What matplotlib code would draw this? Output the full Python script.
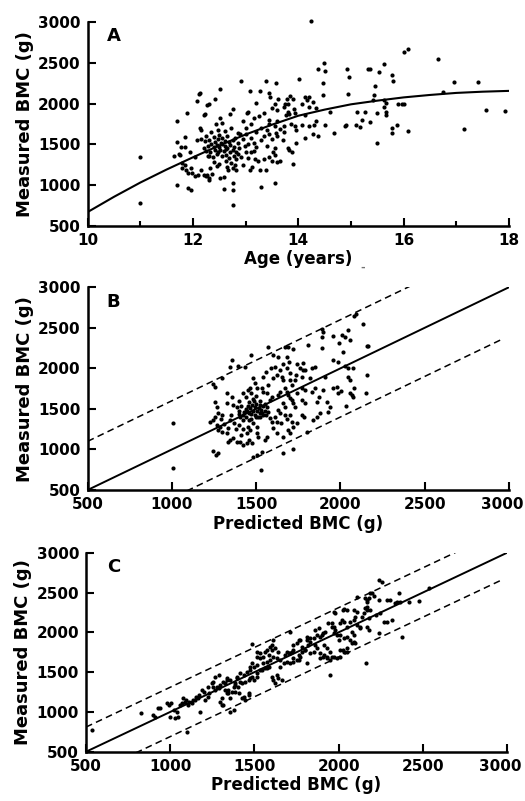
import numpy as np
import matplotlib
matplotlib.use("Agg")
import matplotlib.pyplot as plt
from matplotlib.ticker import MultipleLocator

# ---- panel A: measured BMC against age, with the fitted curve ----
age_a = [11.0, 11.0,
         11.69, 11.70, 11.64, 11.74, 11.77, 11.79, 11.79, 11.70, 11.89, 11.91, 11.97, 11.91, 11.97, 11.84, 11.84, 11.94,
         11.84, 11.87, 11.98, 11.75,
         12.03, 12.07, 12.11, 12.13, 12.16, 12.07, 12.16, 12.2, 12.2, 12.1, 12.04, 12.26, 12.2, 12.29, 12.32, 12.31, 12.26,
         12.13, 12.31, 12.42, 12.16, 12.25, 12.3, 12.36, 12.22,
         12.51, 12.52, 12.56, 12.44, 12.51, 12.58, 12.67, 12.76, 12.82, 12.76, 12.59, 12.75, 12.75, 12.92, 12.76, 12.70,
         12.92, 12.82,
         12.35, 12.48, 12.6, 12.72, 12.85,
         12.25, 12.4, 12.5, 12.55, 12.65, 12.8, 12.9,
         12.22, 12.3, 12.42, 12.47, 12.53, 12.6, 12.68, 12.75, 12.85,
         12.28, 12.35, 12.4, 12.45, 12.5, 12.55, 12.6, 12.65, 12.7, 12.78, 12.88,
         12.25, 12.33, 12.42, 12.48, 12.52, 12.58, 12.63, 12.7, 12.75, 12.82,
         12.3, 12.38, 12.45, 12.55, 12.62, 12.68, 12.78, 12.86,
         12.4, 12.5, 12.62, 12.72, 12.8, 12.45, 12.65,
         13.08, 13.27, 13.38, 13.57, 13.44, 13.46, 13.19, 13.03, 13.30, 13.56, 13.08, 13.12, 13.27, 13.38, 13.18, 13.24,
         13.34, 13.44, 13.5, 13.6, 13.66, 13.82, 13.15, 13.1, 12.99, 13.2, 13.3, 13.4, 13.45, 13.55, 13.6, 13.65, 13.15,
         13.25, 13.35, 13.45, 13.74, 13.8, 13.5, 13.55, 13.6, 13.62, 13.78,
         12.95, 13.0, 13.05, 13.1, 13.15, 13.2, 13.3, 13.35, 13.4, 13.45, 13.5, 13.55, 13.6, 13.7, 13.0, 13.05, 12.95,
         13.0, 12.95, 13.1, 13.05, 13.52, 13.55, 13.57,
         14.24, 14.38, 14.49, 14.51, 14.92, 14.97, 15.32, 15.36, 15.53, 15.63, 15.77, 15.8, 15.46, 16.01, 14.02, 14.46,
         14.47, 14.94, 15.44, 15.42, 15.62, 15.67, 15.9, 15.97, 13.84, 13.9, 14.12, 14.2, 14.16, 14.07, 14.27, 14.2,
         14.33, 13.8, 13.73, 13.92, 13.93, 13.76, 13.83, 14.12, 14.6, 14.33, 14.3, 14.07, 14.2, 13.86, 13.93, 13.73,
         13.96, 13.73, 14.5, 14.67, 14.88, 14.91, 15.12, 15.26, 15.1, 15.17, 15.2, 15.36, 15.5, 15.63, 15.67, 15.67,
         15.5, 15.77, 15.77, 15.88, 14.27, 14.37, 14.13, 13.96, 13.8, 13.88, 13.9,
         16.09, 16.65, 16.96, 17.41, 16.74, 16.0, 17.56, 17.92, 16.08, 17.15]
bmc_a = [1340, 780,
         1789, 1531, 1355, 1380, 1470, 1265, 1204, 1000, 1879, 960, 937, 1142, 1204, 1585, 1462, 1409,
         1245, 1184, 1148, 1368,
         1347, 2034, 2116, 1695, 1674, 1551, 1560, 1449, 1122, 1122, 1110, 1981, 1858, 1355, 1204, 1060, 1122,
         2125, 1994, 2051, 1184, 1110, 1090, 1135, 1871,
         2182, 1818, 1757, 1748, 1082, 1102, 1184, 1205, 1184, 1021, 947, 940, 751, 2276, 1929, 1871,
         1345, 1325,
         1650, 1680, 1660, 1700, 1640,
         1600, 1590, 1610, 1575, 1600, 1580, 1620,
         1540, 1555, 1530, 1560, 1520, 1545, 1530, 1555, 1510,
         1480, 1500, 1465, 1490, 1470, 1500, 1480, 1460, 1495, 1470, 1450,
         1420, 1410, 1430, 1405, 1435, 1415, 1440, 1400, 1425, 1410,
         1360, 1340, 1375, 1350, 1370, 1335, 1360, 1380,
         1280, 1260, 1300, 1270, 1250, 1230, 1220,
         2150, 2157, 2280, 2248, 2125, 2084, 2010, 1887, 972, 1021, 1180, 1220, 1184, 1184, 1317, 1300,
         1320, 1340, 1300, 1280, 1300, 1430, 1420, 1400, 1480, 1650, 1700, 1680, 1750, 1720, 1780, 1690, 1820,
         1850, 1880, 1800, 2000, 1900, 1950, 2000, 1920, 2050, 2050,
         1560, 1620, 1500, 1580, 1520, 1470, 1550, 1600, 1480, 1630, 1560, 1450, 1600, 1550, 1400, 1330, 1250,
         1700, 1780, 1750, 1900, 1400, 1370, 1640,
         3010, 2427, 2497, 2395, 2427, 2321, 2427, 2427, 2386, 2485, 2353, 2280, 2211, 2628, 2297, 2252,
         2108, 2120, 2100, 2047, 2045, 2005, 1997, 1997, 2088, 2059, 2080, 2080, 2040, 2000, 2020, 1960,
         1950, 1990, 1960, 1930, 1880, 1860, 1875, 1860, 1900, 1790, 1740, 1740, 1720, 1750, 1730, 1730,
         1670, 1650, 1740, 1640, 1730, 1740, 1900, 1900, 1740, 1710, 1800, 1770, 1880, 1960, 1900, 1860,
         1510, 1700, 1640, 1740, 1630, 1600, 1580, 1510, 1450, 1410, 1260,
         2665, 2542, 2268, 2268, 2145, 1994, 1920, 1908, 1662, 1687]

curve_age = [10, 10.5, 11, 11.5, 12, 12.5, 13, 13.5, 14, 14.5, 15, 15.5, 16, 16.5, 17, 17.5, 18]
curve_bmc = [668, 855, 1030, 1190, 1340, 1485, 1620, 1740, 1850, 1925, 1990, 2035, 2075, 2105, 2130, 2145, 2155]

# ---- panel B: measured against BMC predicted from age ----
pred_b = [1008, 1008, 1358, 1345, 1390, 1246, 1256, 1300, 1434, 1469, 1572, 1671, 1691, 1717, 1632, 1600, 1681, 1697,
          1657, 1810, 1889, 1899, 1889, 1958, 2007, 2027, 2047, 2082, 2092, 2132, 2057, 1993, 2156, 2166, 1889, 1958,
          1988, 2013, 2027, 2047, 2077, 2047, 2057, 2156, 2082, 2057, 2067, 2077, 2152, 2033, 2003, 1988, 1958, 1978,
          1918, 1873, 1830, 1850, 1780, 1760, 1790, 1820, 1770, 1736, 1701, 1711, 1770, 1790, 1741, 1830, 1850, 1790,
          1770, 1784, 1800, 1691, 1701, 1717, 1657, 1647, 1661, 1671, 1681, 1612, 1622, 1600, 1622, 1552, 1562, 1533,
          1527, 1483, 1503, 1473, 1460, 1404, 1424, 1444, 1365, 1384, 1335, 1345, 1246, 1276, 1262, 1285, 1295, 1325,
          1266, 1276, 1226, 1246, 1256, 1276, 1266, 1256, 1365, 1388, 1325, 1404, 1424, 1345, 1325, 1355, 1483, 1493,
          1503, 1454, 1464, 1533, 1543, 1562, 1592, 1582, 1632, 1642, 1572, 1602, 1622, 1651, 1661, 1543, 1612, 1671,
          1681, 1691, 1701, 1711, 1721, 1731, 1661, 1671, 1562, 1572, 1523, 1543, 1483, 1503, 1454, 1464, 1444, 1503,
          1513, 1582, 1592, 1632, 1642, 1701, 1711, 1741, 1721, 1840, 1859, 1879, 1928, 1938, 1770, 1859, 1899, 1908,
          1420, 1430, 1440, 1450, 1460, 1470, 1480, 1490, 1500, 1510, 1520, 1530, 1540, 1550, 1440, 1455, 1465, 1475,
          1485, 1495, 1505, 1515, 1525, 1445, 1470, 1500, 1535, 1400, 1410, 1395, 1480, 1520, 1550, 1560, 1460,
          1310, 1330, 1350, 1370, 1380, 1400, 1410, 1420, 1300, 1290,
          1420, 1440, 1470, 1500, 1395,
          1560, 1590, 1640, 1680, 1700, 1730, 1740, 1780]
meas_b = [1331, 768, 2104, 2022, 2030, 1808, 1775, 1878, 2022, 2166, 2260, 2268, 2260, 2236, 2145, 2166, 2137, 2083,
          2050, 2289, 2482, 2453, 2392, 2400, 2412, 2384, 2474, 2647, 2671, 2548, 2350, 2310, 2277, 2277, 2248, 2104,
          2083, 2207, 2030, 2001, 2001, 1898, 1857, 1919, 1755, 1693, 1672, 1652, 1693, 1537, 1722, 1693, 1755, 1775,
          1590, 1644, 2001, 2022, 2063, 2001, 1981, 1878, 1890, 1919, 1940, 1796, 1755, 1734, 1693, 1714, 1755, 1570,
          1426, 1397, 1220, 1240, 1200, 1002, 961, 1323, 1159, 1426, 1372, 1405, 1344, 1261, 1200, 1118, 1159, 974,
          748, 912, 933, 1077, 1118, 1097, 1056, 1077, 1138, 1097, 1097, 1118, 986, 953, 933, 1282, 1220, 1200,
          1302, 1241, 1344, 1364, 1405, 1446, 1529, 1590, 1549, 1529, 1570, 1405, 1364, 1364, 1693, 1652, 1878, 1816,
          1755, 1734, 1755, 1755, 1714, 1693, 1652, 1611, 1672, 1714, 1796, 1878, 1919, 1898, 1857, 1898, 2022, 1755,
          1714, 1672, 1631, 1611, 1570, 1529, 1570, 1529, 1529, 1467, 1405, 1426, 1323, 1282, 1282, 1241, 1200, 1200,
          1159, 1385, 1344, 1488, 1446, 1426, 1344, 1323, 1282, 1364, 1405, 1446, 1467, 1529, 1611, 1590, 1734, 1898,
          1420, 1460, 1500, 1540, 1580, 1440, 1480, 1520, 1560, 1400, 1450, 1490, 1530, 1470, 1400, 1450, 1505, 1545,
          1600, 1430, 1470, 1510, 1550, 1470, 1380, 1395, 1445, 1480, 1530, 1440, 1620, 1600, 1560, 1420, 1360,
          1310, 1260, 1420, 1330, 1250, 1300, 1180, 1250, 1420, 1380,
          1700, 1650, 1690, 1660, 1600,
          1960, 2000, 1980, 2000, 1850, 1850, 2050, 1980]

# ---- panel C: measured against BMC predicted from the full model ----
pred_c = [538, 825, 900, 910, 925, 940, 980, 990, 1000, 1030, 1020, 1040, 1060, 1070, 1090, 1098, 1108, 1128, 1148,
          1168, 1178, 1188, 1207, 1227, 1247, 1257, 1267, 1287, 1296, 1306, 1356, 1336, 1346, 1326, 1336, 1376, 1386,
          1396, 1416, 1386, 1406, 1436, 1455, 1475, 1485, 1485, 1436, 1465, 1465, 1485, 1515, 1535, 1554, 1574, 1515,
          1535, 1564, 1584, 1594, 1604, 1613, 1574, 1603, 1613, 1623, 1653, 1673, 1683, 1693, 1712, 1732, 1712, 1732,
          1762, 1772, 1762, 1782, 1801, 1821, 1811, 1831, 1861, 1881, 1861, 1891, 1911, 1931, 1950, 1960, 1950, 1940,
          1960, 1970, 1990, 2019, 2029, 2089, 2099, 2029, 2049, 2009, 2069, 2079, 2109, 2129, 2158, 2168, 2168, 2178,
          2188, 2164, 2168, 2178, 2237, 2257, 2237, 2237, 2267, 2287, 2336, 2346, 2376, 2416, 2475, 2534, 2223, 2247,
          2316,
          1005, 1045, 1114, 1134, 1074, 1094, 1203, 1223, 1253, 1154, 1174, 1233,
          1267, 1287, 1277, 1296, 1316, 1336, 1356, 1326, 1346, 1366, 1306, 1356, 1316, 1376, 1386, 1405, 1425, 1445,
          1395, 1415, 1475, 1495, 1514, 1475, 1495, 1514, 1425, 1445, 1465, 1534, 1554, 1544, 1564, 1584, 1594, 1613,
          1633, 1603, 1623, 1643, 1633, 1643, 1663, 1653, 1693, 1703, 1722, 1732, 1752, 1772, 1712, 1732, 1752, 1762,
          1782, 1802, 1812, 1831, 1851, 1831, 1851, 1871, 1871, 1891, 1910, 1891, 1910, 1812, 1574, 1514,
          2198, 2208, 2158, 2168, 2109, 2030, 2049, 1970, 1980, 2089, 2109, 2307, 2357, 2366, 2287, 2168, 2188, 2139,
          2149, 2178, 2129, 2069, 2010, 2030, 2049, 1960, 1970, 1980, 1921, 1901, 2010, 2030, 2049, 2079, 2089, 2089,
          2099, 1911, 1931, 1950, 1931, 1970, 1990, 2010, 2030, 2049, 2000]
meas_c = [772, 990, 960, 940, 1044, 1044, 1107, 1086, 940, 918, 1023, 1002, 1086, 1107, 1128, 751, 1086, 1107, 1149,
          1170, 1002, 1275, 1149, 1191, 1358, 1317, 1275, 1296, 1128, 1086, 1002, 1233, 1275, 1358, 1400, 1317, 1358,
          1421, 1379, 1254, 1233, 1463, 1505, 1568, 1610, 1852, 1191, 1212, 1400, 1442, 1484, 1526, 1610, 1630, 1693,
          1735, 1756, 1714, 1819, 1840, 1903, 1547, 1442, 1400, 1358, 1651, 1610, 1714, 1756, 1735, 1777, 2007, 1672,
          1651, 1693, 1903, 1819, 1777, 1840, 1945, 1924, 2029, 2049, 1840, 1735, 1714, 1693, 1651, 1693, 1470, 2112,
          2070, 1987, 1966, 2154, 2280, 2154, 2196, 1777, 1756, 1693, 1903, 1861, 2091, 2070, 2301, 2280, 2405, 2426,
          2489, 1618, 2070, 2029, 2657, 2636, 2405, 1987, 2133, 2405, 2364, 2385, 1945, 2385, 2393, 2552, 2217, 2238,
          2154,
          1107, 940, 1128, 1149, 1170, 1149, 1254, 1317, 1379, 1191, 1212, 1233,
          1442, 1463, 1317, 1337, 1379, 1421, 1400, 1275, 1233, 1254, 1170, 1170, 1086, 1023, 1337, 1316, 1358, 1379,
          1442, 1484, 1526, 1568, 1589, 1421, 1400, 1442, 1170, 1149, 1233, 1672, 1693, 1526, 1547, 1568, 1652, 1693,
          1672, 1777, 1798, 1756, 1463, 1421, 1400, 1568, 1631, 1735, 1756, 1840, 1861, 1903, 1610, 1631, 1652, 1714,
          1756, 1777, 1903, 1882, 1924, 1735, 1756, 1798, 1965, 1945, 1987, 1672, 1693, 1610, 1777, 1756,
          2489, 2456, 2426, 2385, 2447, 2288, 2280, 2259, 2238, 2280, 2259, 2405, 2489, 2385, 2133, 2322, 2280, 2196,
          2238, 2175, 2049, 2133, 2112, 2133, 2070, 2112, 2070, 2029, 2008, 1966, 1966, 1924, 1945, 2008, 1966, 1882,
          1861, 1840, 1798, 1756, 1672, 1693, 1672, 1777, 1756, 1798, 1903]

band_b = 600  # half width of the dashed limits, panel B
band_c = 310  # panel C
line_x = [500, 2970]
bmc_ticks = [500, 1000, 1500, 2000, 2500, 3000]

plt.rcParams['font.family'] = 'DejaVu Sans'
plt.rcParams['font.weight'] = 'bold'

fig = plt.figure(figsize=(5.25, 8.01), dpi=100)
ax_a = fig.add_axes([0.167, 0.7182, 0.8025, 0.2543])
ax_b = fig.add_axes([0.167, 0.3883, 0.8025, 0.2531])
ax_c = fig.add_axes([0.1638, 0.0615, 0.8019, 0.2484])


def style(ax):
    for s in ['top', 'right']:
        ax.spines[s].set_visible(False)
    for s in ['left', 'bottom']:
        ax.spines[s].set_linewidth(1.8)
    ax.tick_params(which='major', direction='in', length=6, width=1.5, labelsize=11, pad=5)
    ax.tick_params(which='minor', direction='in', length=3.5, width=1.5)
    ax.set_ylim(500, 3000)
    ax.set_yticks(bmc_ticks)
    ax.set_ylabel('Measured BMC (g)', fontsize=13, fontweight='bold', labelpad=3)


def bmc_xaxis(ax):
    # last label pulled a little left, as in the original, so it stays on the page
    ax.set_xlim(500, 3000)
    ax.set_xticks(bmc_ticks, [str(t) for t in bmc_ticks[:-1]] + [''])
    ax.annotate(str(bmc_ticks[-1]), xy=(bmc_ticks[-1], 0), xycoords=ax.get_xaxis_transform(),
                xytext=(-5, -5), textcoords='offset points', ha='center', va='top',
                fontsize=11, fontweight='bold', annotation_clip=False)


dot = dict(ls='none', marker='o', ms=3.0, color='black', mec='none', clip_on=False)
dash = (0, (4.4, 2.8))

# A
ax_a.plot(age_a, bmc_a, **dot)
ax_a.plot(curve_age, curve_bmc, color='black', lw=1.5)
ax_a.set_xlim(10, 18)
ax_a.xaxis.set_major_locator(MultipleLocator(2))
ax_a.xaxis.set_minor_locator(MultipleLocator(1))
style(ax_a)
ax_a.set_xlabel('Age (years)', fontsize=12, fontweight='bold', labelpad=2)
ax_a.text(0.045, 0.975, 'A', transform=ax_a.transAxes, fontsize=13, fontweight='bold', va='top')

# B
ax_b.plot(pred_b, meas_b, **dot)
ax_b.plot([500, 3000], [500, 3000], color='black', lw=1.4)
ax_b.plot(line_x, np.array(line_x) + band_b, color='black', lw=1.1, ls=dash)
ax_b.plot(line_x, np.array(line_x) - band_b, color='black', lw=1.1, ls=dash)
style(ax_b)
bmc_xaxis(ax_b)
ax_b.set_xlabel('Predicted BMC (g)', fontsize=12, fontweight='bold', labelpad=2)
ax_b.text(0.045, 0.972, 'B', transform=ax_b.transAxes, fontsize=13, fontweight='bold', va='top')

# C
ax_c.plot(pred_c, meas_c, **dot)
ax_c.plot([500, 3000], [500, 3000], color='black', lw=1.4)
ax_c.plot(line_x, np.array(line_x) + band_c, color='black', lw=1.1, ls=dash)
ax_c.plot(line_x, np.array(line_x) - band_c, color='black', lw=1.1, ls=dash)
style(ax_c)
bmc_xaxis(ax_c)
ax_c.set_xlabel('Predicted BMC (g)', fontsize=12, fontweight='bold', labelpad=2)
ax_c.text(0.05, 0.973, 'C', transform=ax_c.transAxes, fontsize=13, fontweight='bold', va='top')

# small stray mark after the age label in the original scan
fig.text(360 / 525, 1 - 268 / 801, '-', fontsize=8, color='0.45', ha='left', va='center')

fig.savefig('out.png', dpi=100)
